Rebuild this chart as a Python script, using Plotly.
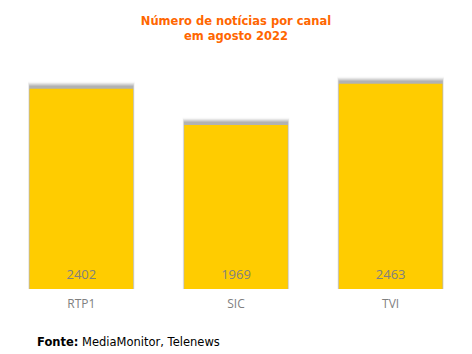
import plotly.graph_objects as go

categories = ["RTP1", "SIC", "TVI"]
values = [2402, 1969, 2463]
title_lines = ["Número de notícias por canal", "em agosto 2022"]
source_label = "Fonte:"
source_text = "MediaMonitor, Telenews"

fig = go.Figure()

# soft shadow layers behind the bars
shadow_layers = [(85, 0.69, 0.05), (70, 0.684, 0.09), (55, 0.678, 0.14), (40, 0.674, 0.20)]
for extra, w, op in shadow_layers:
    fig.add_trace(go.Bar(
        x=categories, y=[v + extra for v in values], width=w,
        marker=dict(color="rgba(70,70,70,%s)" % op, line=dict(width=0)),
        hoverinfo="skip", showlegend=False))

fig.add_trace(go.Bar(
    x=categories, y=values, width=0.67,
    marker=dict(color="#FFCC00", line=dict(width=0)),
    hoverinfo="skip", showlegend=False))

fig.add_trace(go.Scatter(
    x=categories, y=[160] * len(values), mode="text",
    text=[str(v) for v in values], textposition="middle center",
    textfont=dict(color="#808080", size=13, family="Open Sans"),
    hoverinfo="skip", showlegend=False))

fig.update_layout(
    barmode="overlay",
    width=472, height=354,
    margin=dict(l=4, r=4, t=64, b=65),
    paper_bgcolor="white", plot_bgcolor="white",
    title=dict(text="<b>" + "<br>".join(title_lines) + "</b>",
               x=0.5, xanchor="center", y=0.93, yanchor="top",
               font=dict(family="DejaVu Sans", size=11.5, color="#FF6600")),
    xaxis=dict(showgrid=False, showline=False, zeroline=False,
               tickfont=dict(family="Open Sans", size=12, color="#808080"),
               ticks="", ticklabelstandoff=6, range=[-0.5, 2.5]),
    yaxis=dict(visible=False, range=[0, 2700]),
    annotations=[dict(text="<b>" + source_label + "</b> " + source_text,
                      xref="paper", yref="paper", x=(35 - 4) / 464, y=-53 / 225,
                      xanchor="left", yanchor="middle", showarrow=False,
                      font=dict(family="DejaVu Sans", size=11.5, color="black"))],
)

fig.write_html("out.html")
